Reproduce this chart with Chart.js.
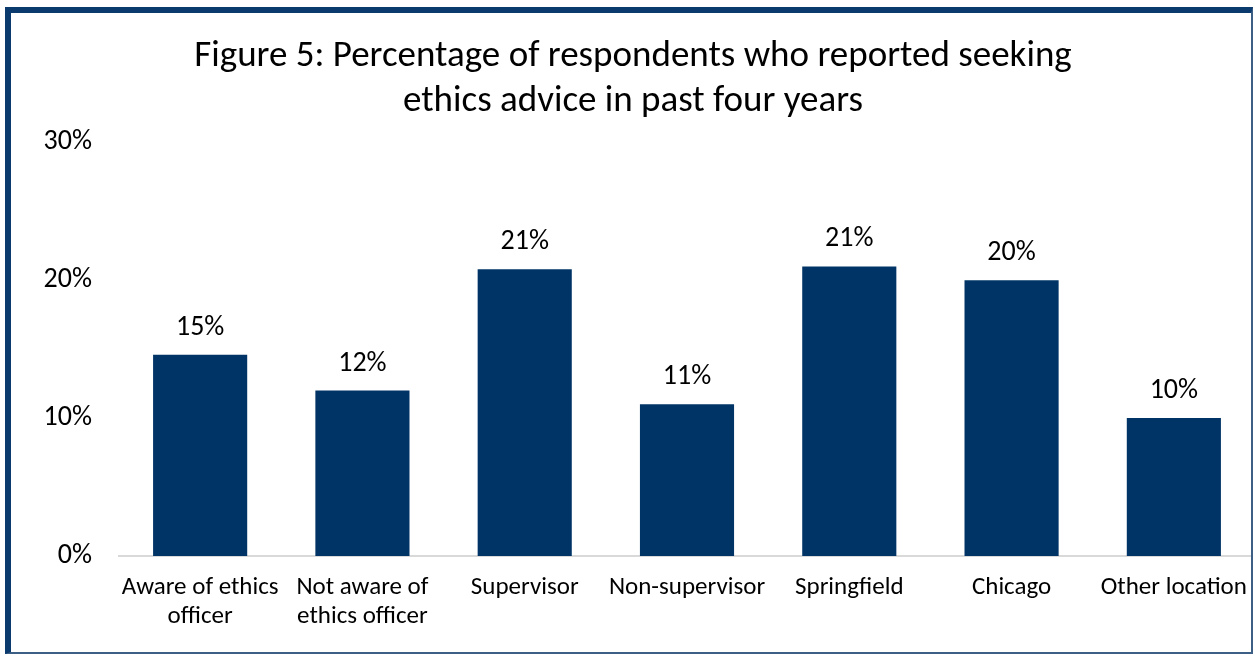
<!DOCTYPE html>
<html>
<head>
<meta charset="utf-8">
<script src="https://cdn.jsdelivr.net/npm/chart.js@4/dist/chart.umd.min.js"></script>
<style>
  html, body { margin: 0; padding: 0; background: #fff; }
  #frame {
    position: absolute; left: 5px; top: 7px; width: 1240px; height: 639px;
    border-top: 6px solid #0b3a6e; border-left: 6px solid #0b3a6e;
    border-right: 2px solid #3d5f86; border-bottom: 2px solid #3d5f86;
    background: #fff; overflow: hidden;
  }
  #chart { display: block; }
</style>
</head>
<body>
<div id="frame"><canvas id="chart" width="1244" height="639"></canvas></div>
<script>
const FONT = "Carlito, 'Open Sans', sans-serif";

// Chart data
const categories = [
  ['Aware of ethics', 'officer'],
  ['Not aware of', 'ethics officer'],
  'Supervisor',
  'Non-supervisor',
  'Springfield',
  'Chicago',
  'Other location'
];
const percentValues = [14.6, 12.0, 20.8, 11.0, 21.0, 20.0, 10.0];
const yTicks = [0, 10, 20, 30];

// Labels above bars
const barLabels = {
  id: 'barLabels',
  afterDatasetsDraw(chart) {
    const ctx = chart.ctx;
    const meta = chart.getDatasetMeta(0);
    ctx.save();
    ctx.font = '28px ' + FONT;
    ctx.fillStyle = '#000';
    ctx.textAlign = 'center';
    ctx.textBaseline = 'alphabetic';
    meta.data.forEach((bar, i) => {
      ctx.fillText(Math.round(percentValues[i]) + '%', bar.x, bar.y - 20);
    });
    ctx.restore();
  }
};

new Chart(document.getElementById('chart').getContext('2d'), {
  type: 'bar',
  data: {
    labels: categories,
    datasets: [{
      data: percentValues,
      backgroundColor: '#003466',
      categoryPercentage: 0.58,
      barPercentage: 1.0
    }]
  },
  options: {
    responsive: false,
    animation: false,
    layout: { padding: 0 },
    plugins: {
      legend: { display: false },
      tooltip: { enabled: false },
      title: {
        display: true,
        text: ['Figure 5: Percentage of respondents who reported seeking', 'ethics advice in past four years'],
        color: '#000',
        font: { family: FONT, size: 37, weight: 'normal', lineHeight: 1.22 },
        padding: { top: 21, bottom: 18 }
      }
    },
    scales: {
      x: {
        grid: { display: false },
        border: { display: true, color: '#d9d9d9', width: 2 },
        ticks: { color: '#000', font: { family: FONT, size: 25, lineHeight: 1.16 }, padding: 9, maxRotation: 0, autoSkip: false },
        afterFit(scale) {
          scale.height = 96;
          scale.paddingLeft = 0;
          scale.paddingRight = 0;
        }
      },
      y: {
        min: 0, max: 30,
        afterBuildTicks(scale) { scale.ticks = yTicks.map(v => ({ value: v })); },
        grid: { display: false },
        border: { display: false },
        ticks: { color: '#000', font: { family: FONT, size: 28 }, padding: 19, callback: v => v + '%' },
        afterFit(scale) { scale.width = 108; }
      }
    }
  },
  plugins: [barLabels]
});
</script>
</body>
</html>
